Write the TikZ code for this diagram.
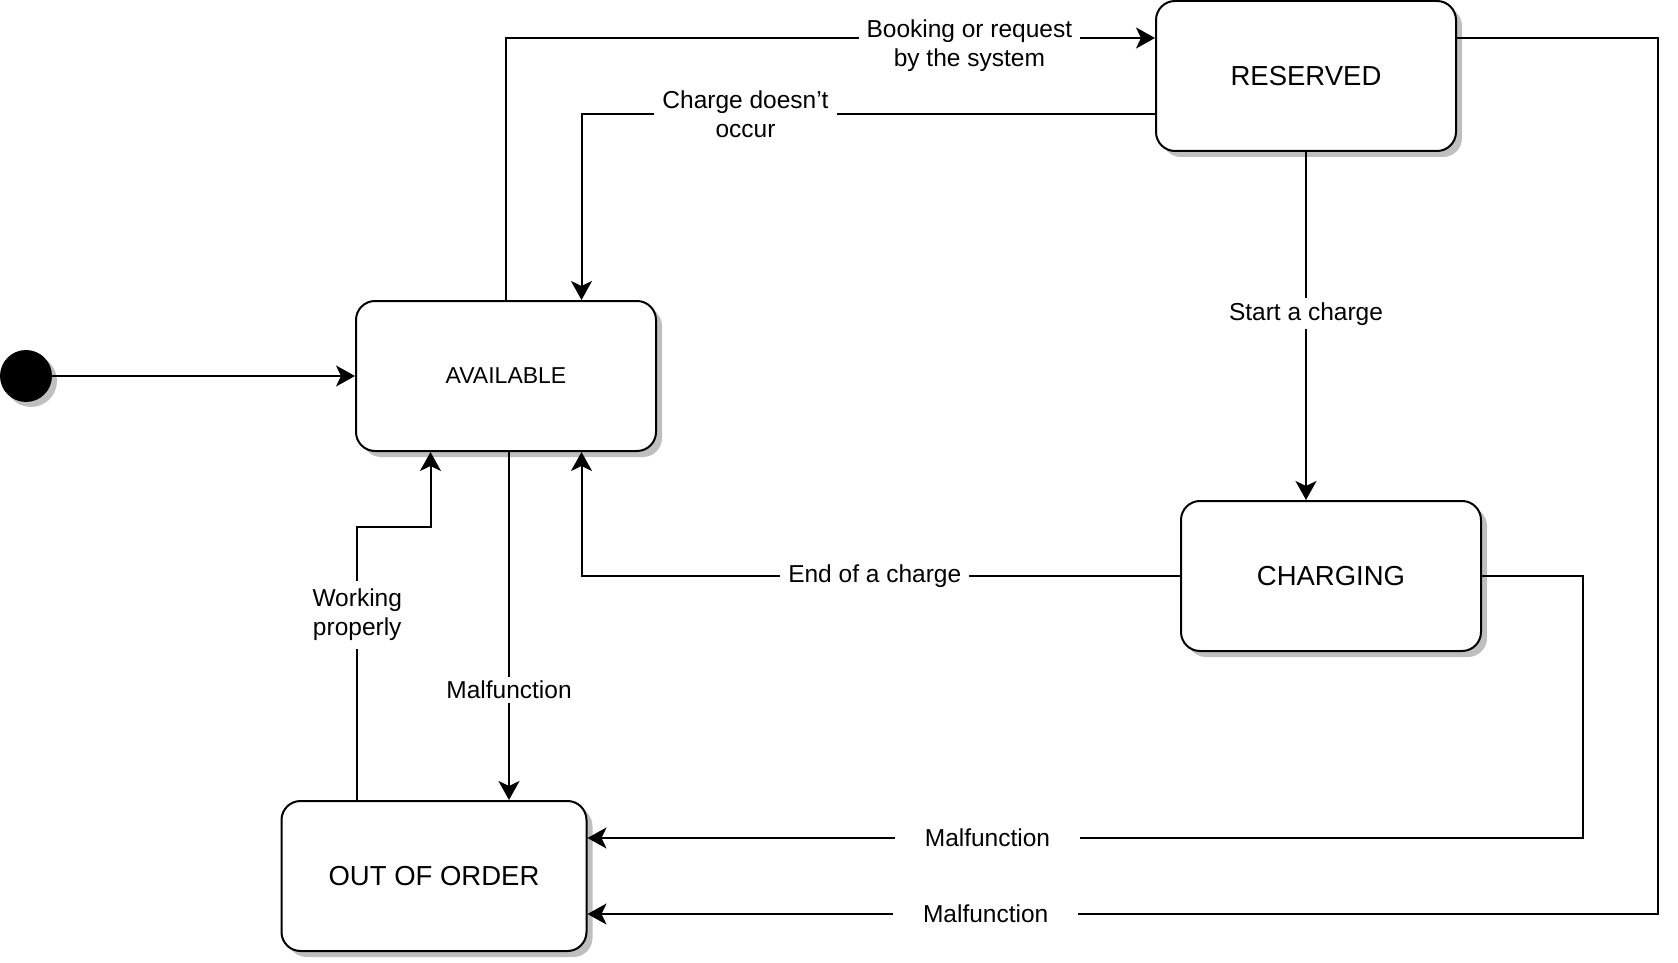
\documentclass[tikz,border=0pt]{standalone}
\usepackage{fontspec}
\setmainfont{Liberation Sans}
\usetikzlibrary{arrows.meta,calc,shadows}

\begin{document}
\begin{tikzpicture}[
  x=0.5pt, y=-0.5pt,
  stt/.style={draw, line width=1pt, rounded corners=9.5pt, fill=white,
              minimum width=150pt, minimum height=75pt, align=center,
              font=\fontsize{13.75}{16}\selectfont,
              drop shadow={shadow xshift=3pt, shadow yshift=-3pt, fill=black!25, opacity=1}},
  ini/.style={circle, fill=black, minimum size=26pt, inner sep=0pt,
              drop shadow={shadow xshift=2.5pt, shadow yshift=-2.5pt, fill=black!25, opacity=1}},
  lbl/.style={fill=white, inner sep=4pt, align=center,
              font=\fontsize{12.25}{14.5}\selectfont},
  pf/.style={-{Stealth[length=9.5pt, width=10.5pt, inset=2.5pt]}, line width=1pt}
]
\useasboundingbox (0,0) rectangle (1678,963);

% Zustaende
\node[ini] (start) at (26,376) {};
\node[stt, font=\fontsize{11.5}{14}\selectfont] (avail) at (506,376) {AVAILABLE};
\node[stt] (res) at (1306,76)  {RESERVED};
\node[stt] (chg) at (1331,576) {CHARGING};
\node[stt, minimum width=152.5pt] (ooo) at (434,876) {OUT OF ORDER};

% Uebergaenge
\draw[pf] (start) -- (avail.west);
\draw[pf] (avail.north) |- node[lbl, pos=0.857, yshift=-4pt] {Booking or request\\by the system}
  ($(res.north west)!.25!(res.south west)$);
\draw[pf] ($(res.north west)!.75!(res.south west)$) -| node[lbl, pos=0.357] {Charge doesn’t\\occur}
  ($(avail.north west)!.75!(avail.north east)$);
\draw[pf] (res.south) -- node[lbl, pos=0.465, inner ysep=2pt] {Start a charge} (res.south |- chg.north);
\draw[pf] (chg.west) -| node[lbl, pos=0.255] {End of a charge}
  ($(avail.south west)!.75!(avail.south east)$);
\draw[pf] ([xshift=1.5pt]avail.south) -- node[lbl, pos=0.683, inner ysep=2pt] {Malfunction}
  ([xshift=1.5pt]avail.south |- ooo.north);
\draw[pf] ($(ooo.north west)!.25!(ooo.north east)$)
  |- node[lbl, pos=0.339, inner xsep=1pt] {Working\\properly}
  ($(avail.south west)!.25!(avail.south east)+(0,75)$)
  -- ($(avail.south west)!.25!(avail.south east)$);

% Stoerungen
\draw[pf] (chg.east) -| ($(ooo.north east)!.25!(ooo.south east)+(995,0)$)
  -- node[lbl, pos=0.598, inner xsep=15pt] {Malfunction} ($(ooo.north east)!.25!(ooo.south east)$);
\draw[pf] ($(res.north east)!.25!(res.south east)$) -| ($(ooo.north east)!.75!(ooo.south east)+(1070.5,0)$)
  -- node[lbl, pos=0.628, inner xsep=15pt] {Malfunction} ($(ooo.north east)!.75!(ooo.south east)$);

\end{tikzpicture}
\end{document}
